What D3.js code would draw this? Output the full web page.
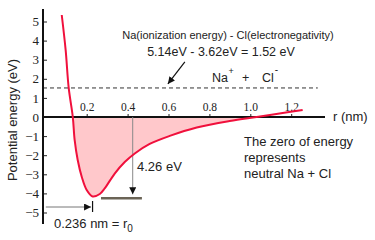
<!DOCTYPE html>
<html>
<head>
<meta charset="utf-8">
<script src="https://cdn.jsdelivr.net/npm/d3@7"></script>
<style>
  body { margin: 0; background: #fff; }
  text { fill: #222; }
</style>
</head>
<body>
<div id="chart"></div>
<script>
// curve: r in nm, E in eV
const rVals = [0.078, 0.097, 0.112, 0.132, 0.141, 0.156, 0.176, 0.200, 0.229, 0.264, 0.288, 0.337, 0.386, 0.435, 0.508, 0.606, 0.738, 0.899, 1.031, 1.143, 1.256];
const eVals = [5.34, 3.51, 1.52, 0.0, -1.20, -2.25, -3.14, -3.82, -4.16, -4.03, -3.74, -2.96, -2.36, -1.91, -1.41, -0.99, -0.55, -0.21, 0.0, 0.18, 0.37];
const xTicks = [0.2, 0.4, 0.6, 0.8, 1.0, 1.2];
const yTicks = [-5, -4, -3, -2, -1, 0, 1, 2, 3, 4, 5];
const ionLevel = 1.52;
const wellDepth = -4.26;
const r0 = 0.236;

const W = 375, H = 240;
const sans = "'Liberation Sans', Arial, sans-serif";
const serif = "'Liberation Serif', 'Times New Roman', serif";

let svg = d3.select("#chart").append("svg")
    .attr("width", W)
    .attr("height", H);

let x = d3.scaleLinear().domain([0, 1]).range([45.8, 250.3]);
let y = d3.scaleLinear().domain([-5, 5]).range([212.5, 21.5]);

let data = rVals.map((r, i) => ({ r: r, e: eVals[i] }));

// arrow head
svg.append("defs").append("marker")
    .attr("id", "head")
    .attr("viewBox", "0 0 10 10")
    .attr("refX", 10).attr("refY", 5)
    .attr("markerWidth", 8).attr("markerHeight", 7)
    .attr("markerUnits", "userSpaceOnUse")
    .attr("orient", "auto")
    .append("path")
    .attr("d", "M0,0L10,5L0,10Z")
    .attr("fill", "#111");

svg.select("defs").append("clipPath")
    .attr("id", "below")
    .append("rect")
    .attr("x", 0).attr("y", y(0))
    .attr("width", W).attr("height", H);

// shaded well
let area = d3.area()
    .x(d => x(d.r))
    .y0(y(0))
    .y1(d => y(d.e))
    .curve(d3.curveCatmullRom.alpha(0.5));

svg.append("path")
    .datum(data)
    .attr("d", area)
    .attr("clip-path", "url(#below)")
    .attr("fill", "#ffc8cb");

// dashed Na+ + Cl- level
svg.append("line")
    .attr("x1", 43).attr("x2", x(1.33))
    .attr("y1", y(ionLevel)).attr("y2", y(ionLevel))
    .attr("stroke", "#333")
    .attr("stroke-width", 1)
    .attr("stroke-dasharray", "4,3");

// axes
let yAxis = svg.append("g")
    .attr("transform", "translate(43,0)")
    .call(d3.axisLeft(y).tickValues(yTicks).tickSizeInner(-4).tickSizeOuter(0).tickPadding(4));
yAxis.select(".domain").remove();
yAxis.selectAll("line").attr("stroke", "#222");
yAxis.selectAll("text")
    .style("font-family", serif)
    .style("font-size", "13px")
    .attr("fill", "#222");

let xAxis = svg.append("g")
    .attr("transform", "translate(0," + y(0) + ")")
    .call(d3.axisTop(x).tickValues(xTicks).tickFormat(d3.format(".1f")).tickSizeInner(3).tickSizeOuter(0).tickPadding(3));
xAxis.select(".domain").remove();
xAxis.selectAll("line").attr("stroke", "#222");
xAxis.selectAll("text")
    .style("font-family", serif)
    .style("font-size", "11.5px")
    .attr("fill", "#222");

svg.append("line")
    .attr("x1", 43).attr("x2", 43)
    .attr("y1", 9).attr("y2", 224)
    .attr("stroke", "#111").attr("stroke-width", 2);
svg.append("line")
    .attr("x1", 43).attr("x2", 325)
    .attr("y1", y(0)).attr("y2", y(0))
    .attr("stroke", "#111").attr("stroke-width", 2);

// 4.26 eV well depth
svg.append("line")
    .attr("x1", x(0.425)).attr("x2", x(0.425))
    .attr("y1", y(0)).attr("y2", y(wellDepth) - 4)
    .attr("stroke", "#888")
    .attr("stroke-width", 1)
    .attr("marker-end", "url(#head)");
svg.append("line")
    .attr("x1", x(0.27)).attr("x2", x(0.47))
    .attr("y1", y(wellDepth)).attr("y2", y(wellDepth))
    .attr("stroke", "#6b6456")
    .attr("stroke-width", 2.5);

// the curve
let line = d3.line()
    .x(d => x(d.r))
    .y(d => y(d.e))
    .curve(d3.curveCatmullRom.alpha(0.5));

svg.append("path")
    .datum(data)
    .attr("d", line)
    .attr("fill", "none")
    .attr("stroke", "#f0103c")
    .attr("stroke-width", 2);

// r0 marker
svg.append("line")
    .attr("x1", x(0)).attr("x2", x(r0) - 3)
    .attr("y1", 207).attr("y2", 207)
    .attr("stroke", "#777")
    .attr("stroke-width", 1)
    .attr("marker-end", "url(#head)");
svg.append("line")
    .attr("x1", x(r0) - 1.5).attr("x2", x(r0) - 1.5)
    .attr("y1", 201).attr("y2", 212)
    .attr("stroke", "#111")
    .attr("stroke-width", 1.2);

// ionization arrow
svg.append("line")
    .attr("x1", x(0.68)).attr("y1", y(ionLevel) - 26)
    .attr("x2", x(0.597)).attr("y2", y(ionLevel) - 4)
    .attr("stroke", "#111")
    .attr("stroke-width", 1.2)
    .attr("marker-end", "url(#head)");

// labels
svg.append("text")
    .attr("transform", "translate(17,120) rotate(-90)")
    .attr("text-anchor", "middle")
    .style("font-family", sans)
    .style("font-size", "13px")
    .text("Potential energy (eV)");

svg.append("text")
    .attr("x", 333).attr("y", 121)
    .style("font-family", sans)
    .style("font-size", "13px")
    .text("r (nm)");

svg.append("text")
    .attr("x", 228).attr("y", 39)
    .attr("text-anchor", "middle")
    .style("font-family", sans)
    .style("font-size", "11px")
    .text("Na(ionization energy) - Cl(electronegativity)");

svg.append("text")
    .attr("x", 221).attr("y", 55.5)
    .attr("text-anchor", "middle")
    .style("font-family", sans)
    .style("font-size", "12.5px")
    .text("5.14eV - 3.62eV = 1.52 eV");

// Na+ + Cl- : superscripts placed after the measured base text
let ions = svg.append("g")
    .style("font-family", sans)
    .style("font-size", "12.5px");
let na = ions.append("text").attr("x", 212).attr("y", 81.5).text("Na");
let naEnd = 212 + na.node().getComputedTextLength();
ions.append("text").attr("x", naEnd + 0.5).attr("y", 74).style("font-size", "9px").text("+");
ions.append("text").attr("x", 242).attr("y", 81.5).text("+");
let cl = ions.append("text").attr("x", 262).attr("y", 81.5).text("Cl");
let clEnd = 262 + cl.node().getComputedTextLength();
ions.append("text").attr("x", clEnd + 1).attr("y", 72.5).style("font-size", "10px").text("-");

let note = svg.append("text")
    .style("font-family", sans)
    .style("font-size", "13px");
["The zero of energy", "represents", "neutral Na + Cl"].forEach((s, i) => {
    note.append("tspan").attr("x", 244).attr("y", 146 + i * 16).text(s);
});

svg.append("text")
    .attr("x", 137).attr("y", 171)
    .style("font-family", sans)
    .style("font-size", "13px")
    .text("4.26 eV");

let r0Label = svg.append("text")
    .attr("x", 54).attr("y", 228)
    .style("font-family", sans)
    .style("font-size", "13px");
r0Label.append("tspan").text("0.236 nm = r");
r0Label.append("tspan").attr("dy", 4).style("font-size", "10px").text("0");
</script>
</body>
</html>
